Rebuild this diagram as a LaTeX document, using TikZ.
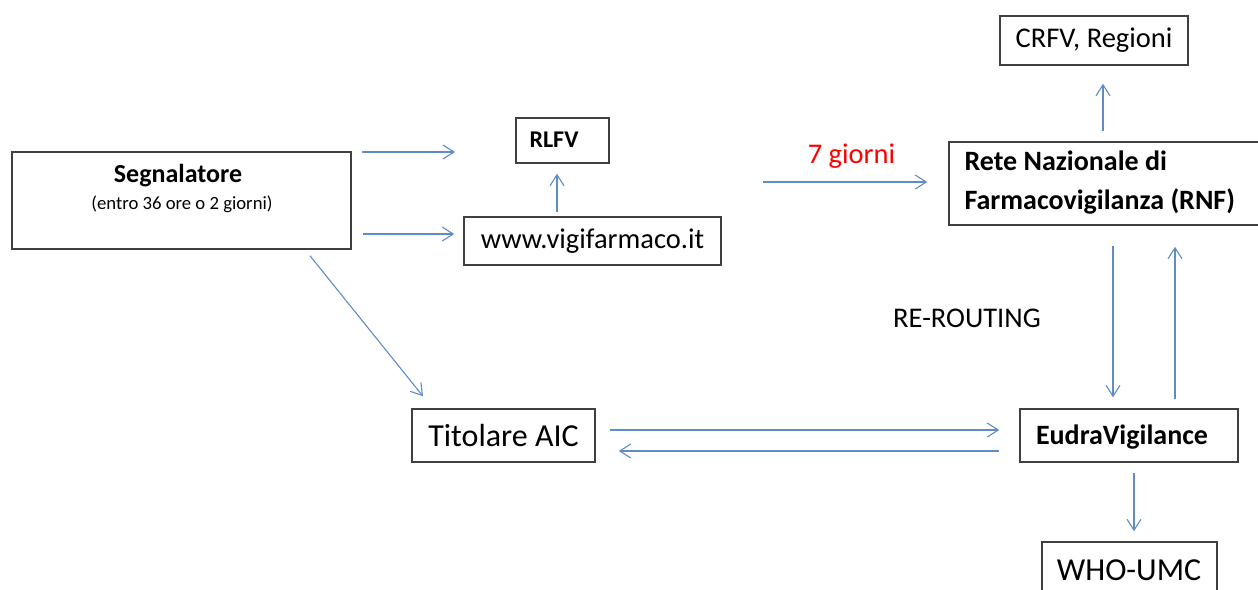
\documentclass[tikz,border=0pt]{standalone}
\usepackage{fontspec}
\setmainfont{Carlito}
\usetikzlibrary{arrows.meta,calc}
\definecolor{arrblue}{RGB}{96,140,198}
\definecolor{boxgray}{RGB}{64,64,64}
\begin{document}
\begin{tikzpicture}[x=1pt,y=-1pt,
  box/.style={draw=boxgray,line width=1.5pt,rectangle,inner sep=0pt},
  arr/.style={draw=arrblue,line width=1.1pt,-{Straight Barb[length=11pt,width=14pt,line width=1.1pt]}},
  fbig/.style={font=\fontsize{32}{38}\selectfont},
  fmid/.style={font=\fontsize{28.5}{34}\selectfont},
  fbold/.style={font=\fontsize{28}{34}\selectfont\bfseries},
  fsmall/.style={font=\fontsize{18.7}{22}\selectfont}]
\useasboundingbox (0,0) rectangle (1258,589);
% boxes
\node[box,minimum width=339pt,minimum height=97pt] (seg) at (181.5,200.5) {};
\node[font=\fontsize{26}{30}\selectfont\bfseries] (segt) at (178,176) {Segnalatore};
\node[fsmall] (segs) at (182,204) {(entro 36 ore o 2 giorni)};
\node[box,minimum width=93pt,minimum height=45pt] (rlfv) at (562.5,140.5) {};
\node[font=\fontsize{24}{28}\selectfont\bfseries] (rlfvt) at (554,140) {RLFV};
\node[box,minimum width=257pt,minimum height=48pt,fmid] (www) at (592.5,241) {www.vigifarmaco.it};
\node[box,minimum width=188pt,minimum height=49pt,fmid] (crfv) at (1094,40.5) {CRFV, Regioni};
\node[box,minimum width=313pt,minimum height=83pt] (rnf) at (1105.5,183.5) {};
\node[align=left,anchor=west,font=\fontsize{28}{39}\selectfont\bfseries] (rnft) at (961,183) {Rete Nazionale di\\Farmacovigilanza (RNF)};
\node[box,minimum width=183pt,minimum height=53pt,fbig] (tit) at (503.5,435.5) {Titolare AIC};
\node[box,minimum width=218pt,minimum height=53pt] (eudra) at (1129,435.5) {};
\node[fbold] (eudrat) at (1122,437) {EudraVigilance};
\node[box,minimum width=175pt,minimum height=58pt] (who) at (1129.5,571) {};
\node[fbig] (whot) at (1129,570) {WHO-UMC};
% labels
\node[fmid,text=red] (sette) at (851.5,156) {7 giorni};
\node[fmid] (rerout) at (967,318) {RE-ROUTING};
% free coordinates
\coordinate (freestart0) at (362,152);
\coordinate (freeend) at (455,152);
\coordinate (freestart) at (763,182);
% connectors
\draw[arr] (freestart0) -- (freeend);
\draw[arr] ([shift={(11,33.5)}]seg.east) -- ([shift={(-9,-7)}]www.west);
\draw[arr] ([shift={(-35.5,-4)}]www.north) -- ([shift={(-5.5,10)}]rlfv.south);
\draw[arr] (freestart) -- ([shift={(-21,-1.5)}]rnf.west);
\draw[arr] ([shift={(-2.5,-10)}]rnf.north) -- ([shift={(9,18)}]crfv.south);
\draw[arr] ([shift={(7.5,20)}]rnf.south) -- ([shift={(-16,-11)}]eudra.north);
\draw[arr] ([shift={(46,-9)}]eudra.north) -- ([shift={(69.5,21)}]rnf.south);
\draw[arr] ([shift={(128.5,6)}]seg.south) -- ([shift={(-80.5,-12)}]tit.north);
\draw[arr] ([shift={(14,-5.5)}]tit.east) -- ([shift={(-20,-5.5)}]eudra.west);
\draw[arr] ([shift={(-20,15.5)}]eudra.west) -- ([shift={(23,15.5)}]tit.east);
\draw[arr] ([shift={(5,10)}]eudra.south) -- ([shift={(4.5,-10)}]who.north);
\end{tikzpicture}
\end{document}
